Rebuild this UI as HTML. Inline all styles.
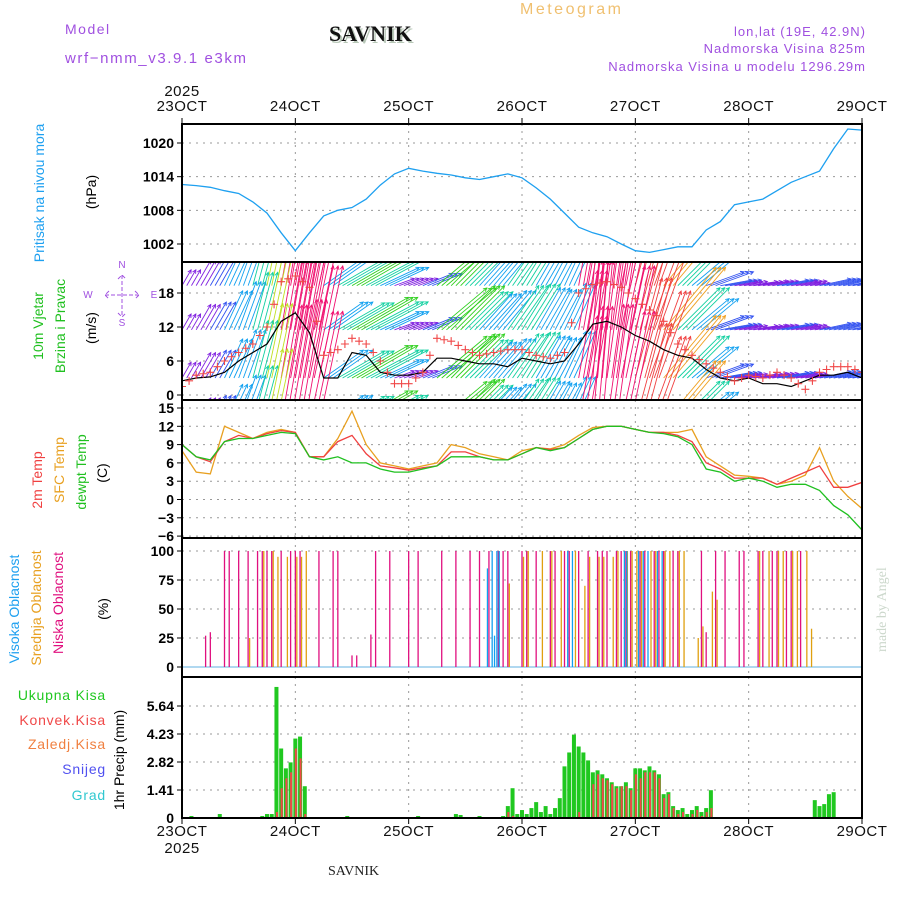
<!DOCTYPE html>
<html><head><meta charset="utf-8"><style>
body{margin:0;background:#fff;width:900px;height:900px;overflow:hidden}
svg{font-family:"Liberation Sans",sans-serif}
</style></head><body>
<svg id="c" width="900" height="900" viewBox="0 0 900 900">
<defs>
<clipPath id="cpP"><rect x="182" y="124" width="680" height="138"/></clipPath>
<clipPath id="cpW"><rect x="182" y="262" width="680" height="138"/></clipPath>
<clipPath id="cpT"><rect x="182" y="400" width="680" height="138"/></clipPath>
</defs>
<text x="65" y="34" fill="#a050e0" font-size="14" letter-spacing="1.5">Model</text>
<text x="65" y="63" fill="#a050e0" font-size="15" letter-spacing="1.6">wrf−nmm_v3.9.1 e3km</text>
<text x="331" y="43" fill="#b8c8b8" font-size="22" font-weight="bold" font-family="Liberation Serif,serif">SAVNIK</text>
<text x="329" y="41" fill="#111" font-size="22" font-weight="bold" font-family="Liberation Serif,serif">SAVNIK</text>
<text x="520" y="14" fill="#f0c070" font-size="16" letter-spacing="2.5">Meteogram</text>
<g fill="#a050e0" font-size="13" letter-spacing="1" text-anchor="end">
<text x="866" y="36">lon,lat (19E, 42.9N)</text>
<text x="866" y="53">Nadmorska Visina 825m</text>
<text x="866" y="71">Nadmorska Visina u modelu 1296.29m</text>
</g>
<text x="328" y="875" font-size="14" font-family="Liberation Serif,serif" fill="#222">SAVNIK</text>
<text transform="translate(886,652) rotate(-90)" font-size="14" font-family="Liberation Serif,serif" fill="#ccd8cc">made by Angel</text>
<g id="g"></g>
</svg>
<script>
const days=['23OCT','24OCT','25OCT','26OCT','27OCT','28OCT','29OCT'];
const pressTicks=[1002,1008,1014,1020];
const windTicks=[0,6,12,18];
const tempTicks=[-6,-3,0,3,6,9,12,15];
const cloudTicks=[0,25,50,75,100];
const precTicks=[1.41,2.82,4.23,5.64];
const pressure=[1012.6,1012.4,1012.1,1011.5,1011,1009.5,1007.5,1004,1000.8,1004,1007,1008,1008.5,1010,1012.5,1014.5,1015.5,1015,1014.6,1014.3,1013.8,1013.5,1014,1014.5,1013.8,1012,1010,1007.5,1005,1004,1003.3,1002,1000.8,1000.5,1001,1001.5,1001.5,1004.5,1006,1009,1009.5,1010,1011.5,1013,1014,1015,1019,1022.5,1022.3];
const windSpeed=[2.5,3,3.2,4,6,7.5,9,13,14.5,11,3,3,7.5,7,4,3.5,3.5,4,6.5,6.5,6,5.5,5.5,5,6.5,6,5.5,6,9,12.5,13,12,10.5,9.5,8,7,6.5,4.5,3,2.5,3,2,2,1.5,2.5,3.5,3.5,4,3];
const windGust=[1.5,3.5,4,6,7.5,9,12,20,21,19,7,8,10,9,6,2,2,4,10,9.5,8,7,7.5,8,8,7,6.5,7.5,18,19.5,20,19,17,15,13,9,7,5.5,4,2.5,3.5,3,4,3,1,4,5,5,4];
const windDir=[30,30,30,25,20,15,12,10,10,12,55,60,60,62,65,70,70,68,50,45,45,42,40,35,32,30,28,25,10,5,8,12,15,20,40,45,50,70,80,80,82,80,80,80,80,78,78,80,80];
const temp2m=[9,7,6.2,9.5,10.5,10,10.8,11.3,11,7,7,9.5,10.5,7.5,5.5,5.2,4.8,5.2,5.5,7.8,7.8,7,6.5,6.5,7.5,8.5,8.2,8.5,10,11.5,12,12,11.5,11,11,10.5,9.5,6,5,3.5,3.5,3.5,2.5,3.5,4.5,5.5,2,2,2.8];
const tempSfc=[8,4.5,4.2,12,11,10,11,11.5,11,7,7,10,14.5,9,6,5.5,5,5.5,6,9,8.5,7.5,7,6.5,8,8.5,8.3,9,10.5,11.8,12,12,11.5,11,11,11,11.5,7,5.5,4,3.8,3.5,2.5,3,4,8.5,3,0.5,-1.5];
const tempDew=[9,7,6.5,9.5,10,10,10.5,11,10.8,7,6.5,7,6,6,5,4.5,4.5,5,5.5,7,7,7,6.5,6.5,7.5,8.5,8,8.5,10,11.5,12,12,11.5,11,10.8,10.3,9,5,4.5,3,3.5,3,2,2.5,2.5,1.5,-1,-2.5,-5];
const cloudLowHours=[5,6,9,10,12,14,16,17,18,19,21,23,24,25,29,32,33,36,37,40,41,44,48,50,55,58,61,63,65,67,68,69,72,73,75,78,79,81,82,84,86,88,89,90,92,93,94,95,97,98,100,101,102,104,105,110,111,113,115,118,119,122,123,125,126,128,129,131];
const cloudLowVals=[27,30,100,100,100,100,100,100,100,100,100,100,100,100,100,100,100,10,10,28,100,100,100,100,100,100,100,100,100,100,100,100,100,100,100,100,100,100,100,100,100,100,100,100,100,100,100,100,100,100,100,100,100,100,100,100,30,100,100,100,100,100,100,100,100,100,100,100];
const cloudMidHours=[14,17,19,20,22,24,25,26,69,72,73,76,78,80,83,85,86,88,89,91,92,94,95,96,97,99,100,102,103,105,106,109,110,112,113,122,124,126,127,129,130,132,133];
const cloudMidVals=[25,100,100,95,95,95,95,100,72,95,100,100,100,100,100,70,95,95,95,95,100,100,100,100,100,100,100,100,100,100,100,25,35,65,58,100,100,100,100,100,100,100,33];
const cloudHighHours=[65,66,66.5,67,67.5,82,83,94,94.5,97,98,99,101,102];
const cloudHighVals=[85,100,27,100,100,100,100,100,100,100,100,100,100,100];
const precHours=[2,8,16,17,18,19,20,21,22,23,24,25,26,35,50,58,59,63,68,69,70,71,72,73,74,75,76,77,78,79,80,81,82,83,84,85,86,87,88,89,90,91,92,93,94,95,96,97,98,99,100,101,102,103,104,105,106,107,108,109,110,111,112,134,135,136,137,138];
const precTotal=[0.1,0.2,0.05,0.1,0.2,0.2,6.6,3.5,2.5,2.8,4.0,4.1,1.6,0.1,0.1,0.2,0.15,0.1,0.1,0.6,1.5,0.2,0.4,0.2,0.5,0.8,0.3,0.6,0.2,0.5,1.0,2.6,3.3,4.2,3.6,3.3,2.9,2.3,2.4,2.2,2.0,1.8,1.6,1.6,1.8,1.5,2.5,2.5,2.4,2.6,2.4,2.2,1.2,1.3,0.6,0.4,0.5,0.2,0.4,0.6,0.3,0.5,1.4,0.9,0.6,0.7,1.2,1.3];
const precConv=[0,0,0,0,0,0,0.3,1.5,2.0,2.3,3.5,3.0,0.2,0,0,0,0,0,0,0.3,0.1,0,0,0,0,0,0,0,0,0,0,0,0,0,0.3,0,0,1.7,2.2,2.0,1.9,1.7,1.5,1.6,1.6,1.4,2.2,2.0,2.3,2.3,2.3,2.0,1.0,1.2,0.5,0.2,0.3,0,0.2,0.4,0.1,0.3,0.5,0,0,0,0,0];

const NS='http://www.w3.org/2000/svg';
const G=document.getElementById('g');
function mk(tag,at,parent){const e=document.createElementNS(NS,tag);for(const k in at)e.setAttribute(k,at[k]);(parent||G).appendChild(e);return e;}
const X0=182,X1=862,HRS=144;
const xT=t=>X0+(X1-X0)*t/48;
const xH=h=>X0+(X1-X0)*h/HRS;
const panels={P:[124,262],W:[262,400],T:[400,538],C:[538,677],R:[677,818]};
const yP=v=>143+(1020-v)*(244-143)/18;
const yW=v=>395-v*(395-293)/18;
const yTm=v=>499.5-v*(499.5-408)/15;
const yC=v=>667-v*(667-551)/100;
const yR=v=>818-v*(818-706)/5.64;

function grid(p,ticks,yf,fmt){
  const [a,b]=panels[p];
  for(let d=1;d<6;d++){const l=mk('line',{x1:X0+d*(X1-X0)/6,x2:X0+d*(X1-X0)/6,y1:a,y2:b,stroke:'#999','stroke-dasharray':'2,5'});
    }
  ticks.forEach(v=>{const y=yf(v);
    const l=mk('line',{x1:X0,x2:X1,y1:y,y2:y,stroke:'#999','stroke-dasharray':'2,5'});
    
    mk('line',{x1:X0-5,x2:X0,y1:y,y2:y,stroke:'#000'});
    const t=mk('text',{x:X0-8,y:y+5,'text-anchor':'end','font-size':14,'font-weight':'bold',fill:'#000'});
    t.textContent=fmt?fmt(v):String(v).replace('-','−');
    });
}
grid('P',pressTicks,yP);grid('W',windTicks,yW);grid('T',tempTicks,yTm);grid('C',cloudTicks,yC);
grid('R',precTicks,yR,v=>v.toFixed(2));
{const t=mk('text',{x:X0-8,y:823,'text-anchor':'end','font-size':14,'font-weight':'bold'});t.textContent='0';}

function line(arr,yf,color,clip,name,w){
  const d=arr.map((v,i)=>(i?'L':'M')+xT(i).toFixed(1)+','+yf(v).toFixed(1)).join('');
  const p=mk('path',{d,fill:'none',stroke:color,'stroke-width':w||1.3,'clip-path':clip});
  return p;
}
line(pressure,yP,'#1ea0f0','url(#cpP)','pressure-line');

function wcol(g){return g<4?'#8020e0':g<6?'#3050f0':g<8?'#10a0f0':g<9.5?'#10d0a0':g<11?'#30d020':g<13?'#c0e020':g<15?'#f0a020':g<18?'#f04040':'#f01070';}
const wg=mk('g',{'clip-path':'url(#cpW)'});

[19.3,11.5,3,-5].forEach(base=>{
  windDir.forEach((dir,i)=>{
    for(let s=0;s<3;s++){
      const t=i+s/3; if(t>48)continue;
      const x=xT(t),y=yW(base),L=10+windGust[i]*5.5,r=dir*Math.PI/180;
      const x2=x+L*Math.sin(r),y2=y-L*Math.cos(r),c=wcol(windGust[i]);
      mk('line',{x1:x,y1:y,x2,y2,stroke:c,'stroke-width':0.9},wg);
      const a1=r+Math.PI*0.85,a2=r-Math.PI*0.85;
      mk('path',{d:`M${x2+4*Math.sin(a1)},${y2-4*Math.cos(a1)}L${x2},${y2}L${x2+4*Math.sin(a2)},${y2-4*Math.cos(a2)}`,stroke:c,fill:'none','stroke-width':0.9},wg);
    }
  });
});
line(windSpeed,yW,'#000','url(#cpW)','wind-speed-line',1.2);
const gg=mk('g',{'clip-path':'url(#cpW)',stroke:'#f04848','stroke-width':1.1});

windGust.forEach((v,i)=>{const x=xT(i),y=yW(v);
  mk('path',{d:`M${x-4},${y}h8M${x},${y-4}v8`},gg);
  if(i<48){const x3=xT(i+0.5),y3=yW((v+windGust[i+1])/2);mk('path',{d:`M${x3-4},${y3}h8M${x3},${y3-4}v8`},gg);}});

line(tempSfc,yTm,'#e8a020','url(#cpT)','sfc-temp-line');
line(temp2m,yTm,'#f04040','url(#cpT)','2m-temp-line');
line(tempDew,yTm,'#20c020','url(#cpT)','dewpoint-line');

mk('line',{x1:X0,x2:X1,y1:667,y2:667,stroke:'#60b0e0','stroke-width':1});
function bars(h,v,c,name,dx){h.forEach((hh,i)=>{const x=xH(hh)+dx;
  const l=mk('line',{x1:x,x2:x,y1:667,y2:yC(v[i]),stroke:c,'stroke-width':1.3});
  });}
bars(cloudMidHours,cloudMidVals,'#e0a010','mid-cloud-bar',1.5);
bars(cloudLowHours,cloudLowVals,'#e0107f','low-cloud-bar',0);
bars(cloudHighHours,cloudHighVals,'#10a0f0','high-cloud-bar',-1.5);

precHours.forEach((h,i)=>{const x=xH(h);
  const r=mk('rect',{x:x-2,y:yR(precTotal[i]),width:4,height:818-yR(precTotal[i]),fill:'#20c820'});
  
  if(precConv[i]>0){const r2=mk('rect',{x:x-0.5,y:yR(precConv[i]),width:2,height:818-yR(precConv[i]),fill:'#f04848'});
    }});

Object.values(panels).forEach(([a,b])=>{const r=mk('rect',{x:X0,y:a,width:X1-X0,height:b-a,fill:'none',stroke:'#000','stroke-width':2});
  });
days.forEach((d,i)=>{const x=X0+i*(X1-X0)/6;
  [[124,-6,111],[818,6,836]].forEach(([y0,dy,ty])=>{mk('line',{x1:x,x2:x,y1:y0,y2:y0+dy,stroke:'#000'});
    const t=mk('text',{x,y:ty,'text-anchor':'middle','font-size':15,fill:'#111','letter-spacing':'0.5'});t.textContent=d;
    });});
[[96],[853]].forEach(([y])=>{const t=mk('text',{x:182,y,'text-anchor':'middle','font-size':15,fill:'#111','letter-spacing':'0.5'});t.textContent='2025';
  });

function vt(x,y,txt,c,fs,name){const t=mk('text',{transform:`translate(${x},${y}) rotate(-90)`,'text-anchor':'middle','font-size':fs||14,fill:c});t.textContent=txt;
  }
vt(44,193,'Pritisak na nivou mora','#1ea0f0',14,'pressure-axis-title');
vt(96,192,'(hPa)','#000',14,'pressure-unit');
vt(43,326,'10m Vjetar','#20c020',14,'wind-axis-title');
vt(65,326,'Brzina i Pravac','#20c020',14,'wind-axis-subtitle');
vt(96,328,'(m/s)','#000',14,'wind-unit');
vt(42,480,'2m Temp','#f04040',14,'temp-2m-title');
vt(64,470,'SFC Temp','#e8a020',14,'temp-sfc-title');
vt(86,472,'dewpt Temp','#20c020',14,'temp-dew-title');
vt(107,473,'(C)','#000',14,'temp-unit');
vt(19,609,'Visoka Oblacnost','#1ea0f0',14,'cloud-high-title');
vt(41,608,'Srednja Oblacnost','#e8a020',14,'cloud-mid-title');
vt(63,603,'Niska Oblacnost','#e0107f',14,'cloud-low-title');
vt(108,609,'(%)','#000',14,'cloud-unit');
vt(124,760,'1hr Precip (mm)','#000',14,'precip-axis-title');
[['Ukupna  Kisa','#20c820',700],['Konvek.Kisa','#f04848',725],['Zaledj.Kisa','#f08040',749],['Snijeg','#5050f0',774],['Grad','#30c8d0',800]].forEach(([s,c,y])=>{
  const t=mk('text',{x:106,y,'text-anchor':'end','font-size':14,fill:c,'letter-spacing':'0.8'});t.textContent=s;
  });
const cg=mk('g',{fill:'#a050e0','font-size':10,'text-anchor':'middle'});

[['N',122,268],['S',122,326],['W',88,298],['E',154,298]].forEach(([s,x,y])=>{const t=mk('text',{transform:`translate(${x},${y})`},cg);t.textContent=s;});
mk('path',{d:'M105,295h34M122,275v42M109,291l-4,4 4,4M135,291l4,4 -4,4M118,279l4,-4 4,4M118,313l4,4 4,-4',stroke:'#a050e0',fill:'none','stroke-dasharray':'4,2'},cg);
</script>
</body></html>
